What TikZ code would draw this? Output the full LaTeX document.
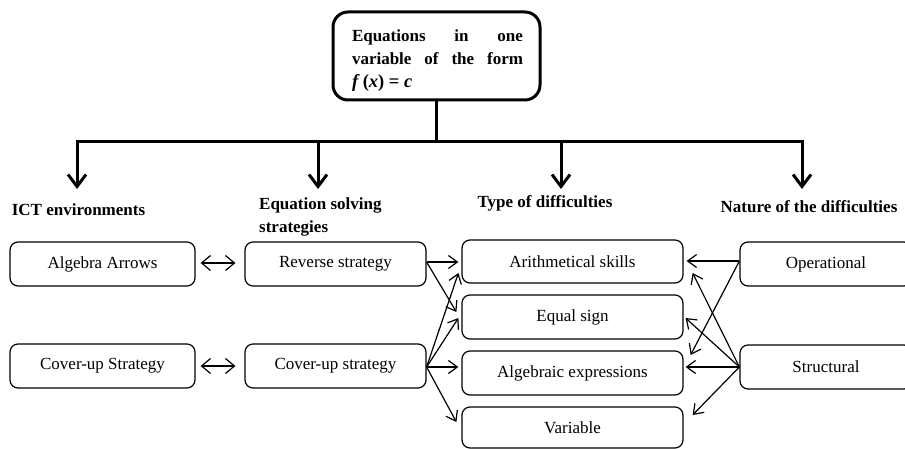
\documentclass[tikz,border=0pt]{standalone}
\usepackage{fontspec}
\setmainfont{Liberation Serif}
\usetikzlibrary{arrows.meta,calc}
\begin{document}
\begin{tikzpicture}[x=1pt,y=-1pt,
  every node/.style={inner sep=0pt, font=\fontsize{17}{23}\selectfont},
  thinbox/.style={draw, rounded corners=8pt, line width=1.2pt, minimum height=44pt},
  topbox/.style={draw, rounded corners=15pt, line width=3pt},
  boldlabel/.style={font=\fontsize{17}{23}\selectfont\bfseries},
  thickarrow/.style={line width=3pt, -{Straight Barb[length=12pt,width=18pt]}},
  thinarrow/.style={line width=1.2pt, -{Straight Barb[length=9pt,width=13pt]}},
  botharrow/.style={line width=1.2pt, {Straight Barb[length=9pt,width=15pt]}-{Straight Barb[length=9pt,width=15pt]}}
]
\useasboundingbox (0,0) rectangle (905,449);

% top box
\node[topbox, minimum width=207pt, minimum height=88pt] (top) at (436.5,56) {};
\node[font=\fontsize{17}{23}\selectfont\bfseries] (toptext) at (437.5,61)
  {\parbox{171pt}{\makebox[171pt][s]{Equations in one}\\\makebox[171pt][s]{variable of the form}\\{\fontsize{18.5}{23}\selectfont\textit{f}\,(\textit{x}) = \textit{c}}}};

% tree connectors
\coordinate (bar) at (436.5,142);
\coordinate (b1) at (77,142);
\coordinate (b2) at (318,142);
\coordinate (b3) at (561,142);
\coordinate (b4) at (802,142);
\coordinate (t1) at (77,189);
\coordinate (t2) at (318,189);
\coordinate (t3) at (561,189);
\coordinate (t4) at (802,189);
\draw[line width=3pt] (top.south) -- (bar);
\draw[line width=3pt, line cap=rect] (b1) -- (b4);
\draw[thickarrow] (b1) -- (t1);
\draw[thickarrow] (b2) -- (t2);
\draw[thickarrow] (b3) -- (t3);
\draw[thickarrow] (b4) -- (t4);

% category labels
\node[boldlabel] (ict) at (78.5,210) {ICT environments};
\node[boldlabel, align=left, anchor=west] (eqs) at (259,217) {Equation solving\\strategies};
\node[boldlabel] (type) at (545,203) {Type of difficulties};
\node[boldlabel] (nature) at (809,207) {Nature of the difficulties};

% boxes
\node[thinbox, minimum width=185pt] (alg) at (102.5,264) {Algebra Arrows};
\node[thinbox, minimum width=181pt] (rev) at (335.5,264) {Reverse strategy};
\node[thinbox, minimum width=185pt] (cov1) at (102.5,366) {Cover-up Strategy};
\node[thinbox, minimum width=181pt] (cov2) at (335.5,366) {Cover-up strategy};

\node[thinbox, minimum width=221pt, minimum height=43pt] (arith) at (572.5,261.5) {Arithmetical skills};
\node[thinbox, minimum width=221pt] (equal) at (572.5,317) {Equal sign};
\node[thinbox, minimum width=221pt] (algex) at (572.5,373) {Algebraic expressions};
\node[thinbox, minimum width=221pt, minimum height=41pt] (var) at (572.5,427.5) {Variable};

\node[thinbox, minimum width=172pt] (oper) at (826,264) {Operational};
\node[thinbox, minimum width=172pt] (struc) at (826,367) {Structural};

% double arrows
\draw[botharrow] ($(alg.east)+(5,-1)$) -- ($(rev.west)+(-9,-1)$);
\draw[botharrow] ($(cov1.east)+(5,0)$) -- ($(cov2.west)+(-9,0)$);

% strategies -> difficulties
\draw[thinarrow] ($(rev.east)+(0,-2)$) -- ($(arith.west)+(-3,0.5)$);
\draw[thinarrow] ($(rev.east)+(0,-2)$) -- ($(equal.west)+(-5,-5)$);
\draw[thinarrow] ($(cov2.east)+(0,1)$) -- ($(arith.west)+(-3,11.5)$);
\draw[thinarrow] ($(cov2.east)+(0,1)$) -- ($(equal.west)+(-3,1)$);
\draw[thinarrow] ($(cov2.east)+(0,1)$) -- ($(algex.west)+(-3,-6)$);
\draw[thinarrow] ($(cov2.east)+(0,1)$) -- ($(var.west)+(-5,-5.5)$);

% nature -> difficulties
\draw[thinarrow] ($(oper.west)+(0,-3)$) -- ($(arith.east)+(3,-0.5)$);
\draw[thinarrow] ($(oper.west)+(0,-3)$) -- ($(algex.east)+(7,-18)$);
\draw[thinarrow] (struc.west) -- ($(arith.east)+(9,11.5)$);
\draw[thinarrow] (struc.west) -- ($(equal.east)+(2,1)$);
\draw[thinarrow] (struc.west) -- ($(algex.east)+(2,-6)$);
\draw[thinarrow] (struc.west) -- ($(var.east)+(9,-12.5)$);
\end{tikzpicture}
\end{document}
